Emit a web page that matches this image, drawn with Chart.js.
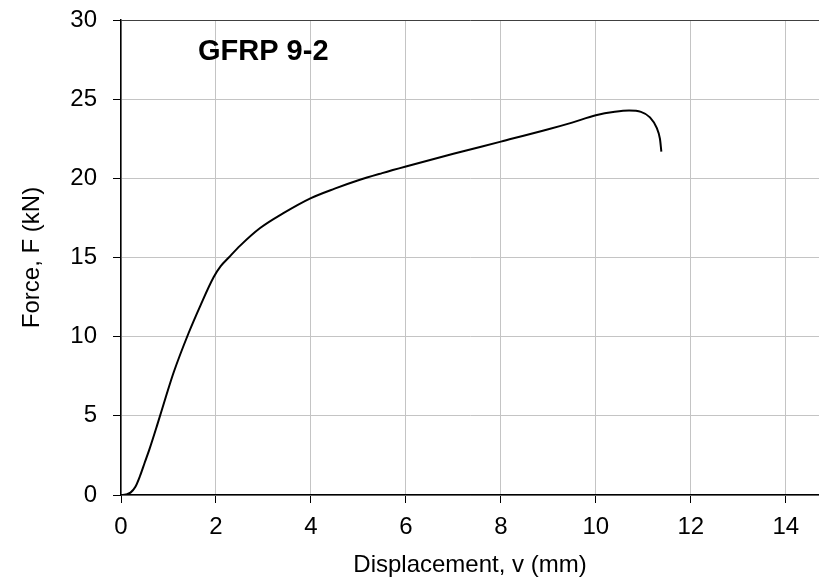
<!DOCTYPE html>
<html>
<head>
<meta charset="utf-8">
<script src="https://cdn.jsdelivr.net/npm/chart.js@4/dist/chart.umd.min.js"></script>
<style>
  html, body { margin: 0; padding: 0; background: #fff; }
  #wrap { width: 819px; height: 581px; }
</style>
</head>
<body>
<div id="wrap"><canvas id="forceChart"></canvas></div>
<script>
// load-displacement curve
const dispMm = [0, 0.1, 0.2, 0.3, 0.4, 0.5, 0.6, 0.76, 0.95, 1.11, 1.42, 1.67, 1.95, 2.1, 2.27, 2.51, 2.93, 3.42, 4.0, 4.5, 5.0, 5.5, 6.0, 7.0, 8.0, 9.0, 9.5, 10.0, 10.4, 10.7, 10.95, 11.14, 11.28, 11.35, 11.38];
const forceKn = [0, 0.03, 0.15, 0.5, 1.2, 2.05, 2.9, 4.4, 6.25, 7.75, 10.2, 11.95, 13.75, 14.45, 15.0, 15.75, 16.86, 17.8, 18.75, 19.35, 19.88, 20.33, 20.75, 21.55, 22.32, 23.1, 23.52, 23.98, 24.2, 24.28, 24.2, 23.85, 23.2, 22.5, 21.69];
const xTicks = [0, 2, 4, 6, 8, 10, 12, 14];
const yTicks = [0, 5, 10, 15, 20, 25, 30];
const specimenLabel = "GFRP 9-2";

const FONT = "Arial, 'Liberation Sans', sans-serif";

const points = dispMm.map((x, i) => ({ x: x, y: forceKn[i] }));

// specimen label inside the plot area
const labelPlugin = {
  id: "specimenLabel",
  afterDatasetsDraw(chart) {
    const { ctx, chartArea } = chart;
    ctx.save();
    ctx.font = "bold 29px " + FONT;
    ctx.fillStyle = "#000";
    ctx.textBaseline = "alphabetic";
    ctx.fillText(specimenLabel, chartArea.left + 77, chartArea.top + 40);
    ctx.restore();
  }
};

new Chart(document.getElementById("forceChart"), {
  type: "scatter",
  data: {
    datasets: [{
      label: specimenLabel,
      data: points,
      showLine: true,
      borderColor: "#000",
      borderWidth: 2,
      pointRadius: 0,
      cubicInterpolationMode: "monotone"
    }]
  },
  options: {
    responsive: true,
    maintainAspectRatio: false,
    animation: false,
    layout: { padding: { top: 20, right: 0, left: 0, bottom: 0 } },
    plugins: {
      legend: { display: false },
      tooltip: { enabled: false }
    },
    scales: {
      x: {
        type: "linear",
        min: 0,
        max: 14.7,
        afterBuildTicks: (scale) => { scale.ticks = xTicks.map((v) => ({ value: v })); },
        afterFit: (scale) => { scale.height = 86; scale.paddingRight = 0; },
        border: { display: true, color: "#000", width: 1.5 },
        grid: { color: "#c4c4c4", tickColor: "#000", tickLength: 8, lineWidth: 1 },
        ticks: { color: "#000", font: { family: FONT, size: 24 }, padding: 10, maxRotation: 0 },
        title: {
          display: true,
          text: "Displacement, v (mm)",
          color: "#000",
          font: { family: FONT, size: 24 },
          padding: { top: 0, bottom: 1 }
        }
      },
      y: {
        type: "linear",
        min: 0,
        max: 30,
        afterBuildTicks: (scale) => { scale.ticks = yTicks.map((v) => ({ value: v })); },
        afterFit: (scale) => { scale.width = 121; scale.paddingTop = 0; scale.paddingBottom = 0; },
        border: { display: true, color: "#000", width: 1.5 },
        grid: {
          color: (c) => (c.tick && c.tick.value === 30 ? "#404040" : "#c4c4c4"),
          tickColor: "#000",
          tickLength: 8,
          lineWidth: 1
        },
        ticks: { color: "#000", font: { family: FONT, size: 24 }, padding: 16 },
        title: {
          display: true,
          text: "Force, F (kN)",
          color: "#000",
          font: { family: FONT, size: 24 },
          padding: { top: 18, bottom: 0 }
        }
      }
    }
  },
  plugins: [labelPlugin]
});
</script>
</body>
</html>
